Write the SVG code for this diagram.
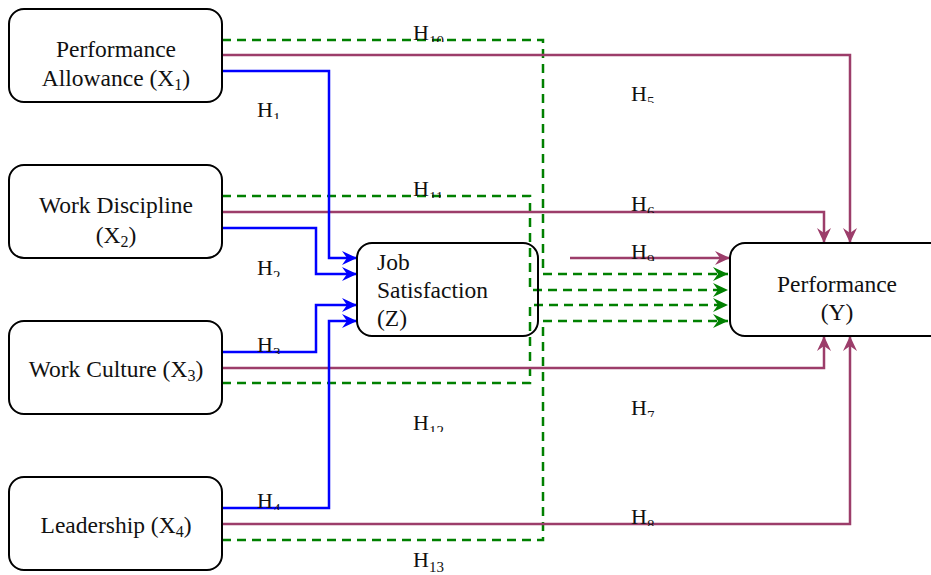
<svg xmlns="http://www.w3.org/2000/svg" width="931" height="575" viewBox="0 0 931 575">
<style>
.box{fill:#fff;stroke:#000;stroke-width:2}
.t{font-family:"Liberation Serif","Times New Roman",serif;font-size:23.5px;fill:#111}
.lab{font-family:"Liberation Serif","Times New Roman",serif;font-size:22px;fill:#111}
.sub{font-size:15px}
.blue{fill:none;stroke:#0000ff;stroke-width:2.5}
.mag{fill:none;stroke:#9c3d6a;stroke-width:2.5}
.grn{fill:none;stroke:#008000;stroke-width:2.5;stroke-dasharray:9 6}
</style>
<defs>
<marker id="ab" markerUnits="userSpaceOnUse" markerWidth="16" markerHeight="14" refX="15" refY="7" orient="auto"><path d="M0,0 L15,7 L0,14 L5,7 Z" fill="#0000ff" stroke="none"/></marker>
<marker id="am" markerUnits="userSpaceOnUse" markerWidth="16" markerHeight="14" refX="15" refY="7" orient="auto"><path d="M0,0 L15,7 L0,14 L5,7 Z" fill="#9c3d6a" stroke="none"/></marker>
<marker id="ag" markerUnits="userSpaceOnUse" markerWidth="16" markerHeight="14" refX="15" refY="7" orient="auto"><path d="M0,0 L15,7 L0,14 L5,7 Z" fill="#008000" stroke="none"/></marker>
<clipPath id="c1" clipPathUnits="userSpaceOnUse"><rect x="240" y="90" width="80" height="29"/></clipPath>
<clipPath id="c2" clipPathUnits="userSpaceOnUse"><rect x="240" y="250" width="80" height="27"/></clipPath>
<clipPath id="c3" clipPathUnits="userSpaceOnUse"><rect x="240" y="327" width="80" height="27"/></clipPath>
<clipPath id="c4" clipPathUnits="userSpaceOnUse"><rect x="240" y="483" width="80" height="27"/></clipPath>
<clipPath id="c5" clipPathUnits="userSpaceOnUse"><rect x="620" y="76" width="80" height="27"/></clipPath>
<clipPath id="c6" clipPathUnits="userSpaceOnUse"><rect x="620" y="186" width="80" height="27"/></clipPath>
<clipPath id="c7" clipPathUnits="userSpaceOnUse"><rect x="620" y="390" width="80" height="27"/></clipPath>
<clipPath id="c8" clipPathUnits="userSpaceOnUse"><rect x="620" y="499" width="80" height="27"/></clipPath>
<clipPath id="c9" clipPathUnits="userSpaceOnUse"><rect x="620" y="234" width="80" height="27"/></clipPath>
<clipPath id="c10" clipPathUnits="userSpaceOnUse"><rect x="400" y="15" width="80" height="27"/></clipPath>
<clipPath id="c11" clipPathUnits="userSpaceOnUse"><rect x="400" y="171" width="80" height="27"/></clipPath>
<clipPath id="c12" clipPathUnits="userSpaceOnUse"><rect x="400" y="405" width="80" height="27"/></clipPath>
</defs>
<rect width="931" height="575" fill="#fff"/>
<g id="connectors">
<path class="grn" d="M222,40 H543 V274 H728" marker-end="url(#ag)"/>
<path class="grn" d="M222,540 H543 V321 H728" marker-end="url(#ag)"/>
<path class="grn" d="M222,196 H530 V290 H728" marker-end="url(#ag)"/>
<path class="grn" d="M222,383 H530 V305 H728" marker-end="url(#ag)"/>
<path class="mag" d="M222,55 H850 V243" marker-end="url(#am)"/>
<path class="mag" d="M222,212 H824 V243" marker-end="url(#am)"/>
<path class="mag" d="M222,368 H824 V336" marker-end="url(#am)"/>
<path class="mag" d="M222,524 H850 V336" marker-end="url(#am)"/>
<path class="mag" d="M570,258 H730" marker-end="url(#am)"/>
<path class="blue" d="M222,71 H329 V258 H357" marker-end="url(#ab)"/>
<path class="blue" d="M222,228 H316 V274 H357" marker-end="url(#ab)"/>
<path class="blue" d="M222,352 H316 V305 H357" marker-end="url(#ab)"/>
<path class="blue" d="M222,508 H329 V321 H357" marker-end="url(#ab)"/>
</g>
<g id="labels">
<text class="lab" x="257" y="117" clip-path="url(#c1)">H<tspan class="sub" dy="6">1</tspan></text>
<text class="lab" x="257" y="275" clip-path="url(#c2)">H<tspan class="sub" dy="6">2</tspan></text>
<text class="lab" x="257" y="352" clip-path="url(#c3)">H<tspan class="sub" dy="6">3</tspan></text>
<text class="lab" x="257" y="508" clip-path="url(#c4)">H<tspan class="sub" dy="6">4</tspan></text>
<text class="lab" x="631" y="101" clip-path="url(#c5)">H<tspan class="sub" dy="6">5</tspan></text>
<text class="lab" x="631" y="211" clip-path="url(#c6)">H<tspan class="sub" dy="6">6</tspan></text>
<text class="lab" x="631" y="415" clip-path="url(#c7)">H<tspan class="sub" dy="6">7</tspan></text>
<text class="lab" x="631" y="524" clip-path="url(#c8)">H<tspan class="sub" dy="6">8</tspan></text>
<text class="lab" x="631" y="259" clip-path="url(#c9)">H<tspan class="sub" dy="6">9</tspan></text>
<text class="lab" x="413" y="40" clip-path="url(#c10)">H<tspan class="sub" dy="6">10</tspan></text>
<text class="lab" x="413" y="196" clip-path="url(#c11)">H<tspan class="sub" dy="6">11</tspan></text>
<text class="lab" x="413" y="430" clip-path="url(#c12)">H<tspan class="sub" dy="6">12</tspan></text>
<text class="lab" x="413" y="567">H<tspan class="sub" dy="5">13</tspan></text>
</g>
<g id="node-x1">
<rect class="box" x="9" y="9" width="213" height="93" rx="15"/>
<text class="t" x="116" y="57" text-anchor="middle">Performance</text>
<text class="t" x="116" y="86" text-anchor="middle">Allowance (X<tspan dy="4" style="font-size:16px">1</tspan><tspan dy="-4">)</tspan></text>
</g>
<g id="node-x2">
<rect class="box" x="9" y="165" width="213" height="93" rx="15"/>
<text class="t" x="116" y="213" text-anchor="middle">Work Discipline</text>
<text class="t" x="116" y="243" text-anchor="middle">(X<tspan dy="4" style="font-size:16px">2</tspan><tspan dy="-4">)</tspan></text>
</g>
<g id="node-x3">
<rect class="box" x="9" y="321" width="213" height="93" rx="15"/>
<text class="t" x="116" y="377" text-anchor="middle">Work Culture (X<tspan dy="4" style="font-size:16px">3</tspan><tspan dy="-4">)</tspan></text>
</g>
<g id="node-x4">
<rect class="box" x="9" y="477" width="213" height="93" rx="15"/>
<text class="t" x="116" y="533" text-anchor="middle">Leadership (X<tspan dy="4" style="font-size:16px">4</tspan><tspan dy="-4">)</tspan></text>
</g>
<g id="node-z">
<rect class="box" x="357" y="243" width="181" height="93" rx="15" style="fill:none"/>
<text class="t" x="377" y="270">Job</text>
<text class="t" x="377" y="298">Satisfaction</text>
<text class="t" x="377" y="326">(Z)</text>
</g>
<g id="node-y">
<rect class="box" x="730" y="243" width="215" height="93" rx="15"/>
<text class="t" x="837" y="292" text-anchor="middle">Performance</text>
<text class="t" x="837" y="320" text-anchor="middle">(Y)</text>
</g>
</svg>
